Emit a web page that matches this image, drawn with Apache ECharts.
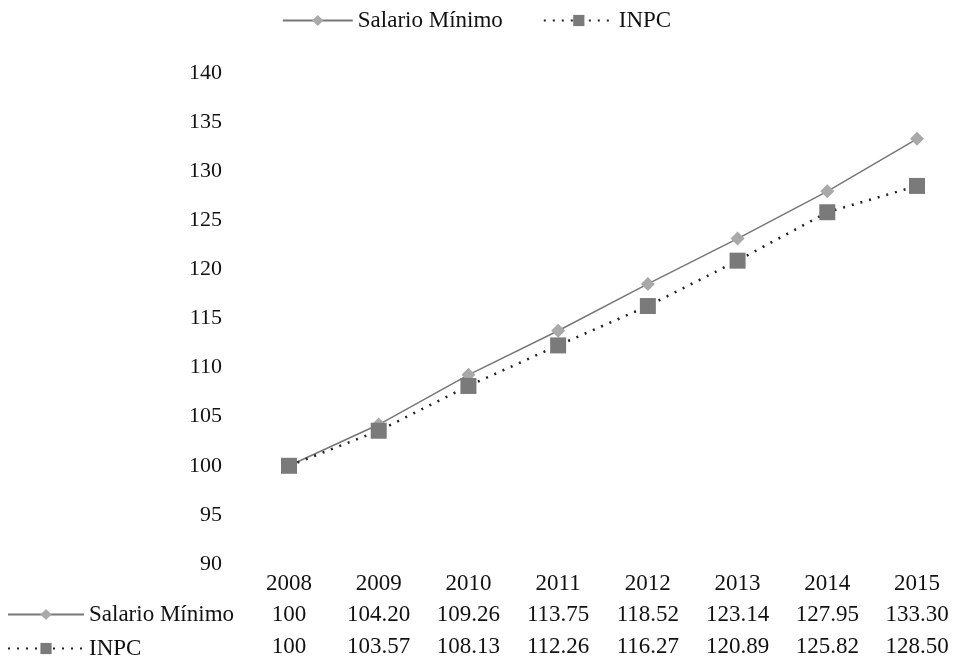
<!doctype html>
<html>
<head>
<meta charset="utf-8">
<title>Salario Mínimo vs INPC</title>
<script src="https://cdn.jsdelivr.net/npm/echarts@6/dist/echarts.min.js"></script>
<style>
  html, body { margin: 0; padding: 0; background: #fff; }
  #main { width: 953px; height: 663px; }
</style>
</head>
<body>
<div id="main"></div>
<script type="text/javascript">
var years = ['2008', '2009', '2010', '2011', '2012', '2013', '2014', '2015'];
var salario = [100, 104.20, 109.26, 113.75, 118.52, 123.14, 127.95, 133.30];
var inpc = [100, 103.57, 108.13, 112.26, 116.27, 120.89, 125.82, 128.50];
var salarioText = ['100', '104.20', '109.26', '113.75', '118.52', '123.14', '127.95', '133.30'];
var inpcText = ['100', '103.57', '108.13', '112.26', '116.27', '120.89', '125.82', '128.50'];

var font = 'Liberation Serif';
var myChart = echarts.init(document.getElementById('main'));

// leyenda de la tabla (una por fila)
function rowLegend(name, top) {
  return {
    data: [name],
    left: 2,
    top: top,
    itemWidth: 76,
    itemHeight: 14,
    textStyle: { fontFamily: font, fontSize: 23, color: '#111' }
  };
}

var option = {
  backgroundColor: '#fff',
  animation: false,
  legend: [{
    data: ['Salario Mínimo', 'INPC'],
    left: 'center',
    top: 4,
    itemWidth: 70,
    itemHeight: 14,
    itemGap: 40,
    textStyle: { fontFamily: font, fontSize: 23, color: '#111' }
  },
  rowLegend('Salario Mínimo', 598),
  rowLegend('INPC', 632)],
  grid: { left: 289, right: 36, top: 73, bottom: 99 },
  xAxis: {
    type: 'category',
    boundaryGap: false,
    data: years,
    axisLine: { show: false },
    axisTick: { show: false },
    axisLabel: {
      interval: 0,
      hideOverlap: false,
      margin: 5,
      fontFamily: font,
      fontSize: 23,
      color: '#111',
      formatter: function (v, i) {
        return '{y|' + v + '}\n{v|' + salarioText[i] + '}\n{v|' + inpcText[i] + '}';
      },
      rich: {
        y: { fontFamily: font, fontSize: 23, color: '#111', lineHeight: 30 },
        v: { fontFamily: font, fontSize: 23, color: '#111', lineHeight: 32 }
      }
    }
  },
  yAxis: {
    type: 'value',
    min: 90,
    max: 140,
    interval: 5,
    axisLine: { show: false },
    axisTick: { show: false },
    splitLine: { show: false },
    axisLabel: { margin: 67, fontFamily: font, fontSize: 22, color: '#111' }
  },
  series: [{
    name: 'Salario Mínimo',
    type: 'line',
    data: salario,
    symbol: 'diamond',
    symbolSize: 14,
    itemStyle: { color: '#a9a9a9' },
    lineStyle: { color: '#777', width: 1.5, type: 'solid' }
  }, {
    name: 'INPC',
    type: 'line',
    data: inpc,
    symbol: 'rect',
    symbolSize: 16,
    itemStyle: { color: '#7a7a7a' },
    lineStyle: { color: '#222', width: 2.5, type: [2, 7] }
  }]
};

myChart.setOption(option);
</script>
</body>
</html>
